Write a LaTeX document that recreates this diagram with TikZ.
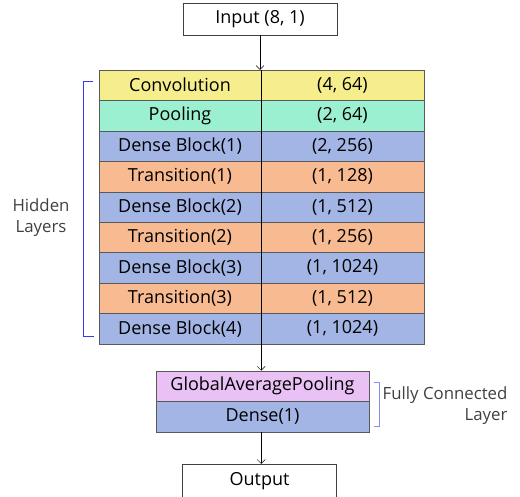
\documentclass[tikz,border=0pt]{standalone}
\usepackage{fontspec}
\setmainfont{Open Sans}
\usetikzlibrary{arrows.meta}
\definecolor{convcol}{HTML}{F6EE8D}
\definecolor{poolcol}{HTML}{9BF0D2}
\definecolor{densecol}{HTML}{A3B5E5}
\definecolor{transcol}{HTML}{F8BA91}
\definecolor{gapcol}{HTML}{EAC1F5}
\definecolor{bracecol}{HTML}{3838F0}
\definecolor{fcbracecol}{HTML}{8C8CF0}
\begin{document}
\begin{tikzpicture}[x=1pt, y=-1pt, >={Straight Barb[length=4pt,width=8pt]},
    box/.style={draw=black!75, fill=white, minimum width=154pt, minimum height=32pt, inner sep=0pt, font=\fontsize{18}{20}\selectfont},
    cell/.style={draw=black!65, minimum height=30.44pt, inner sep=0pt, font=\fontsize{18}{20}\selectfont},
    side/.style={text=black!75, font=\fontsize{16.8}{21}\selectfont}]
  \clip (0,0) rectangle (520,496);
  \useasboundingbox (0,0) rectangle (520,496);
  % input
  \node[box] (input) at (260,19) {Input (8, 1)};
  % hidden layers table
  \foreach \lab/\val/\col [count=\i] in {Convolution/{(4, 64)}/convcol,
      Pooling/{(2, 64)}/poolcol,
      Dense Block(1)/{(2, 256)}/densecol,
      Transition(1)/{(1, 128)}/transcol,
      Dense Block(2)/{(1, 512)}/densecol,
      Transition(2)/{(1, 256)}/transcol,
      Dense Block(3)/{(1, 1024)}/densecol,
      Transition(3)/{(1, 512)}/transcol,
      Dense Block(4)/{(1, 1024)}/densecol}
    {
      \node[cell, fill=\col, minimum width=162pt] (l\i) at (180, {54.78+30.44*\i}) {\lab};
      \node[cell, fill=\col, minimum width=163pt] (v\i) at (342.5, {54.78+30.44*\i}) {\val};
    }
  \draw[black!65] (l1.north west) rectangle (v9.south east);
  \draw (l1.north east) -- (l9.south east);
  \draw[->] (input.south) -- (input.south |- l1.north);
  % brackets and labels
  \draw[bracecol] (93,81) -- (83,81) -- (83,336) -- (94,336);
  \node[side, align=center] (hidden) at (41,218) {Hidden\\Layers};
  % fully connected
  \node[cell, fill=gapcol, minimum width=213pt] (gap) at (262.5,386) {GlobalAveragePooling};
  \node[cell, fill=densecol, minimum width=213pt, anchor=north] (dense) at (gap.south) {Dense(1)};
  \draw[->] (l9.south east) -- (l9.south east |- gap.north);
  \draw[fcbracecol] (374,382) -- (379,382) -- (379,426) -- (374,426);
  \node[side, align=right, anchor=east] (fc) at (511,406) {Fully Connected\\Layer};
  % output
  \node[box, minimum height=34pt] (output) at (259.5,481) {Output};
  \draw[->] (dense.south -| l9.south east) -- (output.north -| l9.south east);
\end{tikzpicture}
\end{document}
